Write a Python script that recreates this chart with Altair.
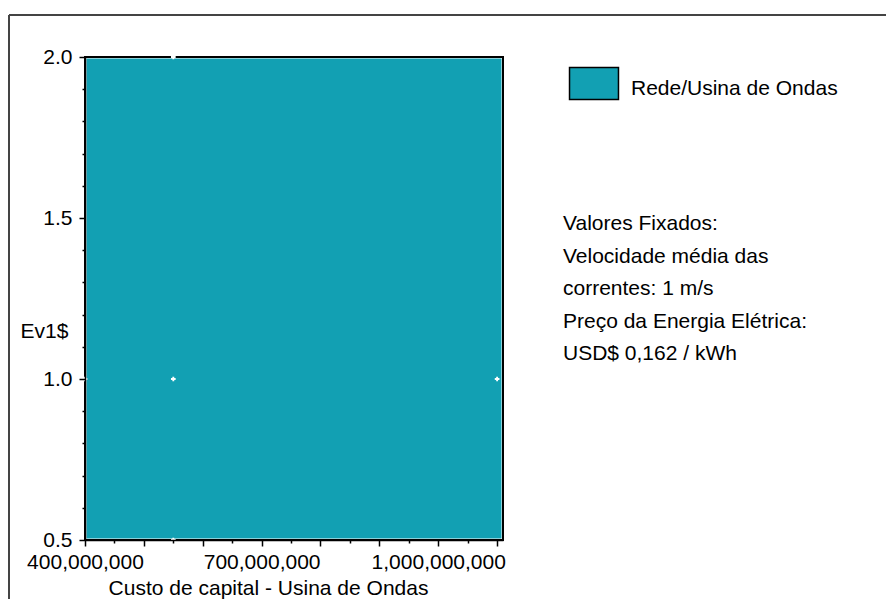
import altair as alt
import pandas as pd

# Axis ranges of the sensitivity plot
capital_cost_domain = [400_000_000, 1_110_000_000]
ev_domain = [0.5, 2.0]

# Optimal system type region
system_types = ["Rede/Usina de Ondas"]
region_x_start = [400_000_000]
region_x_end = [1_110_000_000]
region_y_start = [0.5]
region_y_end = [2.0]

# Simulated sensitivity cases
case_cost = [400_000_000, 550_000_000, 550_000_000, 550_000_000, 1_100_000_000]
case_ev = [1.0, 0.5, 1.0, 2.0, 1.0]

# Tick positions
x_ticks = list(range(400_000_000, 1_100_000_001, 50_000_000))
y_ticks = [round(0.5 + 0.1 * i, 1) for i in range(16)]

fixed_values = [
    "Valores Fixados:",
    "Velocidade média das",
    "correntes: 1 m/s",
    "Preço da Energia Elétrica:",
    "USD$ 0,162 / kWh",
]

TEAL = "#12A0B3"
FONT = "Liberation Sans"
FS = 21

regions = pd.DataFrame({
    "tipo": system_types,
    "x0": region_x_start,
    "x1": region_x_end,
    "y0": region_y_start,
    "y1": region_y_end,
})
cases = pd.DataFrame({"custo": case_cost, "ev": case_ev})
one = pd.DataFrame({"k": [0]})

x_scale = alt.Scale(domain=capital_cost_domain, nice=False, zero=False)
y_scale = alt.Scale(domain=ev_domain, nice=False, zero=False)

Y_MAJOR = "abs(datum.value * 2 - round(datum.value * 2)) < 0.001"

x_axis = alt.Axis(
    values=x_ticks,
    labelExpr="datum.value % 300000000 === 100000000 ? format(datum.value, ',') : ''",
    labelOverlap=False,
    labelFlush=False,
    labelFont=FONT, labelFontSize=FS, labelColor="black",
    labelPadding=5,
    tickSize={"condition": {"test": "datum.value % 100000000 === 0", "value": 6}, "value": 3},
    tickColor="black", tickWidth=1.5,
    domainColor="black", domainWidth=1.5,
    grid=False,
    title="Custo de capital - Usina de Ondas",
    titleFont=FONT, titleFontSize=FS, titleFontWeight="normal", titleColor="black",
    titleX=183, titleY=54, titleAlign="center", titleBaseline="alphabetic",
    zindex=1,
)

y_axis = alt.Axis(
    values=y_ticks,
    labelExpr=f"{Y_MAJOR} ? format(datum.value, '.1f') : ''",
    labelOverlap=False,
    labelFlush=False,
    labelFont=FONT, labelFontSize=FS, labelColor="black",
    labelPadding=7,
    tickSize={"condition": {"test": Y_MAJOR, "value": 6}, "value": 3},
    tickColor="black", tickWidth=1.5,
    domainColor="black", domainWidth=1.5,
    grid=False,
    title="Ev1$",
    titleFont=FONT, titleFontSize=FS, titleFontWeight="normal", titleColor="black",
    titleAngle=0, titleX=-65, titleY=274, titleAlign="left", titleBaseline="middle",
    zindex=1,
)

# Filled optimal-system region with its legend
area = alt.Chart(regions).mark_rect(stroke="white", strokeWidth=3).encode(
    x=alt.X("x0:Q", scale=x_scale, axis=x_axis),
    x2="x1",
    y=alt.Y("y0:Q", scale=y_scale, axis=y_axis),
    y2="y1",
    color=alt.Color(
        "tipo:N",
        scale=alt.Scale(domain=system_types, range=[TEAL]),
        legend=alt.Legend(
            title=None,
            orient="none",
            legendX=492,
            legendY=15,
            symbolType="M-1.53,-1.34H1.53V0.66H-1.53Z",
            symbolSize=1024,
            symbolStrokeColor="black",
            symbolStrokeWidth=1.5,
            symbolOpacity=1,
            labelFont=FONT, labelFontSize=FS, labelColor="black",
            labelOffset=20,
            labelLimit=0,
            padding=0,
        ),
    ),
)

# Plot frame drawn over the region
frame = alt.Chart(regions).mark_rect(fill=None, stroke="black", strokeWidth=2).encode(
    x=alt.X("x0:Q", scale=x_scale, axis=x_axis),
    x2="x1",
    y=alt.Y("y0:Q", scale=y_scale, axis=y_axis),
    y2="y1",
)

# Sensitivity case markers
points = alt.Chart(cases).mark_point(
    shape="cross", filled=True, color="white", size=22, opacity=1
).encode(
    x=alt.X("custo:Q", scale=x_scale, axis=x_axis),
    y=alt.Y("ev:Q", scale=y_scale, axis=y_axis),
)

# Fixed-value notes beside the plot
notes = alt.Chart(one).mark_text(
    align="left", baseline="alphabetic", font=FONT, fontSize=FS,
    color="black", lineHeight=32.5,
).encode(x=alt.value(478), y=alt.value(173), text=alt.value(fixed_values))

# Outer panel border
border_left = alt.Chart(one).mark_rule(color="#444444", strokeWidth=2).encode(
    x=alt.value(-76), y=alt.value(-42), y2=alt.value(640)
)
border_top = alt.Chart(one).mark_rule(color="#444444", strokeWidth=2).encode(
    x=alt.value(-76), x2=alt.value(900), y=alt.value(-42)
)

chart = alt.layer(area, frame, points, notes, border_left, border_top).properties(
    width=418,
    height=483,
    autosize=alt.AutoSizeParams(type="none"),
    padding={"left": 85, "top": 57, "right": 383, "bottom": 70},
    background="white",
).configure_view(stroke=None).configure_axis(labelOverlap=False)

chart.save("out.html", embed_options={"renderer": "svg", "actions": False})
